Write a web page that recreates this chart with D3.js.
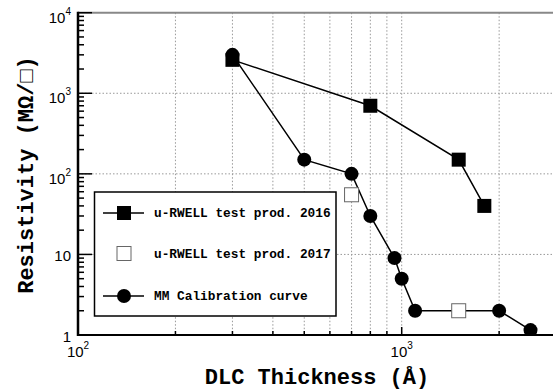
<!DOCTYPE html>
<html>
<head>
<meta charset="utf-8">
<script src="https://cdn.jsdelivr.net/npm/d3@7"></script>
<style>
  body { margin: 0; background: #fff; }
  .mono { font-family: "Liberation Mono", "DejaVu Sans Mono", monospace; font-weight: bold; }
  .tick { font-family: "Liberation Sans", Arial, sans-serif; font-size: 15px; }
</style>
</head>
<body>
<div id="chart"></div>
<script>
// u-RWELL test prod. 2016 (thickness in Angstrom, resistivity in MOhm/sq)
var thick2016 = [300, 800, 1500, 1800];
var res2016 = [2600, 700, 150, 40];

// u-RWELL test prod. 2017
var thick2017 = [700, 1500];
var res2017 = [55, 2];

// MM calibration curve
var thickMM = [300, 500, 700, 800, 950, 1000, 1100, 2000, 2500];
var resMM = [3000, 150, 100, 30, 9, 5, 2, 2, 1.15];

var legendLabels = ["u-RWELL test prod. 2016", "u-RWELL test prod. 2017", "MM Calibration curve"];
var xTickExp = [2, 3];
var yTickExp = [0, 1, 2, 3, 4];

const w = 553;
const h = 391;
const padLeft = 78, padTop = 12.7, axisY = 335;
const decadeX = 323.7;

// x axis goes on past the picture edge (it is cut at the right)
const xScale = d3.scaleLog().domain([100, 10000]).range([padLeft, padLeft + 2 * decadeX]);
const yScale = d3.scaleLog().domain([1, 10000]).range([axisY, padTop]);

const svg = d3.select("#chart").append("svg")
  .attr("width", w)
  .attr("height", h);

svg.append("clipPath").attr("id", "plot")
  .append("rect")
  .attr("x", padLeft).attr("y", padTop)
  .attr("width", w - padLeft).attr("height", axisY - padTop);

// minor values for grid and ticks
var xMinor = [];
for (var d = 2; d <= 3; d++) {
  for (var m = 1; m < 10; m++) xMinor.push(m * Math.pow(10, d));
}
var yMinor = [];
for (var e = 0; e < 4; e++) {
  for (var k = 1; k < 10; k++) yMinor.push(k * Math.pow(10, e));
}

// dotted grid
const grid = svg.append("g").attr("clip-path", "url(#plot)");
grid.selectAll(".vg")
  .data(xMinor.filter(v => v > 100))
  .enter().append("line")
  .attr("x1", d => xScale(d)).attr("x2", d => xScale(d))
  .attr("y1", padTop).attr("y2", axisY)
  .attr("stroke", "#999").attr("stroke-width", 1)
  .attr("stroke-dasharray", "1.5,2");
grid.selectAll(".hg")
  .data([10, 100, 1000])
  .enter().append("line")
  .attr("x1", padLeft).attr("x2", w)
  .attr("y1", d => yScale(d)).attr("y2", d => yScale(d))
  .attr("stroke", "#999").attr("stroke-width", 1)
  .attr("stroke-dasharray", "1.5,2");

// top frame line
svg.append("line")
  .attr("x1", padLeft).attr("x2", w)
  .attr("y1", padTop).attr("y2", padTop)
  .attr("stroke", "#888").attr("stroke-width", 2);

// y ticks pointing inward
svg.selectAll(".yt")
  .data(yMinor.concat([10000]))
  .enter().append("line")
  .attr("x1", padLeft)
  .attr("x2", d => Number.isInteger(Math.log10(d)) ? padLeft + 14 : padLeft + 6)
  .attr("y1", d => yScale(d)).attr("y2", d => yScale(d))
  .attr("stroke", "#000").attr("stroke-width", 1.5);

// x ticks pointing up
svg.selectAll(".xt")
  .data(xMinor.filter(v => v > 100))
  .enter().append("line")
  .attr("x1", d => xScale(d)).attr("x2", d => xScale(d))
  .attr("y1", axisY)
  .attr("y2", d => Number.isInteger(Math.log10(d)) ? axisY - 8 : axisY - 4)
  .attr("stroke", "#000").attr("stroke-width", 1.5);

// axis lines
svg.append("line")
  .attr("x1", padLeft).attr("x2", padLeft).attr("y1", padTop - 1).attr("y2", axisY + 1)
  .attr("stroke", "#000").attr("stroke-width", 2.5);
svg.append("line")
  .attr("x1", padLeft).attr("x2", w).attr("y1", axisY).attr("y2", axisY)
  .attr("stroke", "#000").attr("stroke-width", 2);

// y tick labels
yTickExp.forEach(function (p) {
  var y = yScale(Math.pow(10, p));
  var t = svg.append("text").attr("class", "tick")
    .attr("text-anchor", "end").attr("x", 71);
  if (p === 0) {
    t.attr("y", y + 7).text("1");
  } else if (p === 1) {
    t.attr("y", y + 6.5).text("10");
  } else {
    t.attr("y", y + 10);
    t.append("tspan").text("10");
    t.append("tspan").attr("dy", -8).style("font-size", "10px").text(p);
  }
});

// x tick labels
xTickExp.forEach(function (p) {
  var t = svg.append("text").attr("class", "tick")
    .attr("text-anchor", "middle")
    .attr("x", xScale(Math.pow(10, p)))
    .attr("y", 357);
  t.append("tspan").text("10");
  t.append("tspan").attr("dy", -8).style("font-size", "10px").text(p);
});

// data
const plot = svg.append("g").attr("clip-path", "url(#plot)");
const line = d3.line().x(d => xScale(d[0])).y(d => yScale(d[1]));

var pts2016 = thick2016.map((v, i) => [v, res2016[i]]);
var pts2017 = thick2017.map((v, i) => [v, res2017[i]]);
var ptsMM = thickMM.map((v, i) => [v, resMM[i]]);

plot.append("path").datum(pts2016).attr("d", line)
  .attr("fill", "none").attr("stroke", "#000").attr("stroke-width", 1.5);
plot.append("path").datum(ptsMM).attr("d", line)
  .attr("fill", "none").attr("stroke", "#000").attr("stroke-width", 1.5);

plot.selectAll(".sq16").data(pts2016).enter().append("rect")
  .attr("x", d => xScale(d[0]) - 7).attr("y", d => yScale(d[1]) - 7)
  .attr("width", 14).attr("height", 14).attr("fill", "#000");
plot.selectAll(".cMM").data(ptsMM).enter().append("circle")
  .attr("cx", d => xScale(d[0])).attr("cy", d => yScale(d[1]))
  .attr("r", 7).attr("fill", "#000");
plot.selectAll(".sq17").data(pts2017).enter().append("rect")
  .attr("x", d => xScale(d[0]) - 7).attr("y", d => yScale(d[1]) - 7)
  .attr("width", 14).attr("height", 14)
  .attr("fill", "#fff").attr("stroke", "#666").attr("stroke-width", 1);

// legend
const lg = svg.append("g");
lg.append("rect")
  .attr("x", 94.5).attr("y", 192).attr("width", 241.5).attr("height", 124)
  .attr("fill", "#fff").attr("stroke", "#000").attr("stroke-width", 1.5);
var rowY = [213, 253.5, 296];
legendLabels.forEach(function (lab, i) {
  var y = rowY[i];
  if (i !== 1) {
    lg.append("line").attr("x1", 103).attr("x2", 144).attr("y1", y).attr("y2", y)
      .attr("stroke", "#000").attr("stroke-width", 1.5);
  }
  if (i === 0) {
    lg.append("rect").attr("x", 117).attr("y", y - 7).attr("width", 14).attr("height", 14).attr("fill", "#000");
  } else if (i === 1) {
    lg.append("rect").attr("x", 117).attr("y", y - 7).attr("width", 14).attr("height", 14)
      .attr("fill", "#fff").attr("stroke", "#666").attr("stroke-width", 1);
  } else {
    lg.append("circle").attr("cx", 124).attr("cy", y).attr("r", 7).attr("fill", "#000");
  }
  lg.append("text").attr("class", "mono")
    .attr("x", 154).attr("y", y + 4)
    .style("font-size", "12.8px")
    .text(lab);
});

// axis titles
svg.append("text").attr("class", "mono")
  .attr("text-anchor", "middle")
  .attr("x", 317).attr("y", 384)
  .style("font-size", "22px")
  .text("DLC Thickness (Å)");
svg.append("text").attr("class", "mono")
  .attr("text-anchor", "middle")
  .attr("transform", "translate(33,175) rotate(-90)")
  .style("font-size", "22px")
  .text("Resistivity (MΩ/□)");
</script>
</body>
</html>
